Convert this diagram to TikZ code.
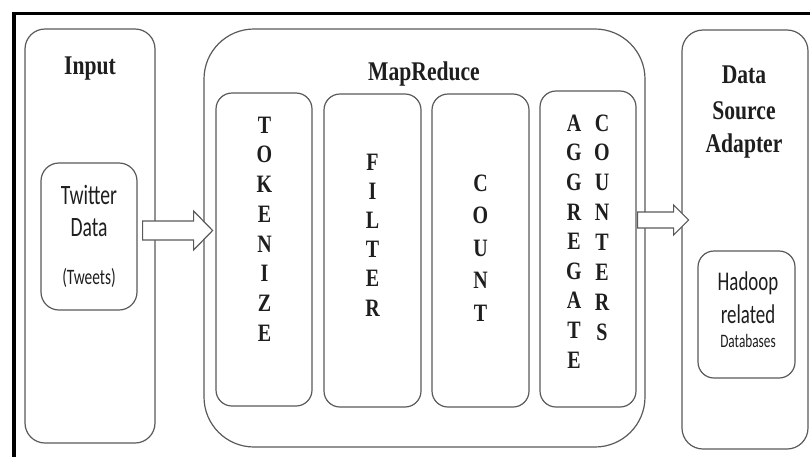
\documentclass[tikz,border=0pt]{standalone}
\usepackage{fontspec}
\newfontfamily\mytitle[FakeStretch=0.8]{Liberation Serif}
\newfontfamily\mysans[FakeStretch=0.7]{Carlito}
\usetikzlibrary{calc}
\definecolor{edge}{HTML}{5A5A5A}
\definecolor{ink}{HTML}{1E1E1E}
\tikzset{
  box/.style={draw=edge, line width=1.2pt, rounded corners=#1, fill=none, inner sep=0pt},
  box/.default=18pt,
  ttl/.style={text=ink, anchor=base, inner sep=0pt, font=\mytitle\bfseries\fontsize{27}{32}\selectfont},
  sans/.style={text=ink, anchor=base, inner sep=0pt, font=\mysans\fontsize{28}{32}\selectfont},
  letters/.style={text=ink, align=center, inner sep=0pt, font=\mytitle\bfseries\fontsize{25}{#1}\selectfont},
  barrow/.style={draw=edge, line width=1.2pt, fill=white, line join=miter},
  frame/.style={draw=black, line width=3.2pt}
}
\begin{document}
\begin{tikzpicture}[x=1pt, y=-1pt]
\useasboundingbox (0,0) rectangle (810,456);
\fill[white] (0,0) rectangle (810,456);
\draw[frame] (14,460) -- (14,13.5) -- (815,13.5);

% Input column
\node[box=20pt, minimum width=130pt, minimum height=414pt] (inp) at (90,236) {};
\node[ttl] (inpt) at (90,74) {Input};
\node[box=18pt, minimum width=96pt, minimum height=147pt] (tw) at (89,236.5) {};
\node[sans] (tw1) at (89,204) {Twitter};
\node[sans] (tw2) at (89,236) {Data};
\node[sans, font=\mysans\fontsize{22}{26}\selectfont] (tw3) at (89,284) {(Tweets)};

% MapReduce
\node[box=50pt, minimum width=441pt, minimum height=418pt] (mr) at (424.5,238) {};
\node[ttl] (mrt) at (424,80) {MapReduce};
\node[box=16pt, minimum width=96pt, minimum height=313pt] (tok) at (264,249.5) {};
\node[box=16pt, minimum width=97pt, minimum height=313pt] (fil) at (372.5,250.5) {};
\node[box=16pt, minimum width=97pt, minimum height=313pt] (cnt) at (480.5,250.5) {};
\node[box=16pt, minimum width=96pt, minimum height=316pt] (agg) at (588,249) {};
\node[letters=29.7] (tokl) at (264.5,229) {T\\O\\K\\E\\N\\I\\Z\\E};
\node[letters=29.2] (fill) at (372.5,235) {F\\I\\L\\T\\E\\R};
\node[letters=32.5] (cntl) at (480.5,248) {C\\O\\U\\N\\T};
\node[letters=29.6] (aggl) at (574,241.5) {A\\G\\G\\R\\E\\G\\A\\T\\E};
\node[letters=29.9] (ctrl) at (602,227.5) {C\\O\\U\\N\\T\\E\\R\\S};

% Data Source Adapter
\node[box=21pt, minimum width=126pt, minimum height=419pt] (dsa) at (745,239.5) {};
\node[ttl] (dsa1) at (744,83) {Data};
\node[ttl] (dsa2) at (744,119) {Source};
\node[ttl] (dsa3) at (744,152) {Adapter};
\node[box=16pt, minimum width=97pt, minimum height=127pt] (had) at (746.5,314.5) {};
\node[sans, font=\mysans\fontsize{27}{30}\selectfont] (had1) at (748,290) {Hadoop};
\node[sans, font=\mysans\fontsize{27}{30}\selectfont] (had2) at (748,323) {related};
\node[sans, font=\mysans\fontsize{19}{22}\selectfont] (had3) at (748,347) {Databases};

% block arrows
\draw[barrow] ($(tw.east)+(5,-15.5)$) -- ++(51,0) -- ++(0,-10) -- ++(19,19.5)
  -- ++(-19,19.5) -- ++(0,-10) -- ++(-51,0) -- cycle;
\draw[barrow] ($(agg.east)+(1,-37)$) -- ++(36,0) -- ++(0,-7) -- ++(15,15)
  -- ++(-15,15) -- ++(0,-7) -- ++(-36,0) -- cycle;
\end{tikzpicture}
\end{document}
